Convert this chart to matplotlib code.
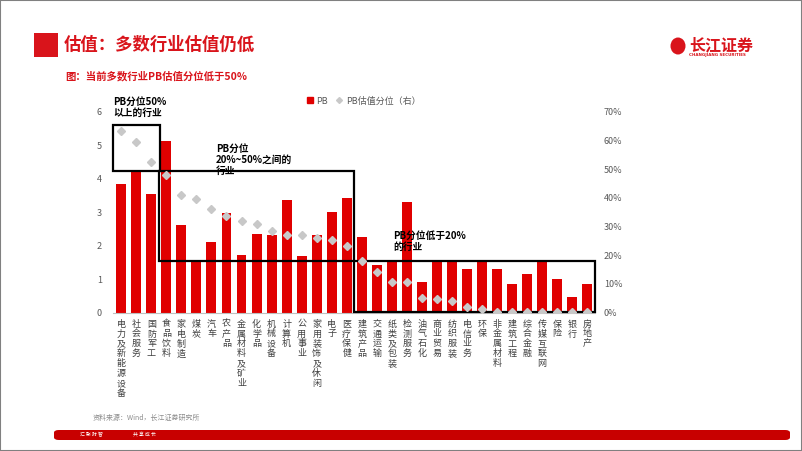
import numpy as np
import matplotlib.pyplot as plt
from matplotlib.patches import Rectangle, FancyBboxPatch, Ellipse
from matplotlib.lines import Line2D

plt.rcParams['font.family'] = ['Noto Sans CJK SC', 'DejaVu Sans']

# Data
industries = ['电力及新能源设备', '社会服务', '国防军工', '食品饮料', '家电制造', '煤炭', '汽车',
              '农产品', '金属材料及矿业', '化学品', '机械设备', '计算机', '公用事业', '家用装饰及休闲',
              '电子', '医疗保健', '建筑产品', '交通运输', '纸类及包装', '检测服务', '油气石化',
              '商业贸易', '纺织服装', '电信业务', '环保', '非金属材料', '建筑工程', '综合金融',
              '传媒互联网', '保险', '银行', '房地产']
pb = [3.84, 4.20, 3.55, 5.13, 2.61, 1.50, 2.12, 2.97, 1.73, 2.34, 2.32, 3.35, 1.70, 2.31,
      3.00, 3.41, 2.25, 1.42, 1.55, 3.31, 0.92, 1.53, 1.58, 1.30, 1.52, 1.31, 0.85, 1.15,
      1.55, 1.02, 0.47, 0.86]
pb_pct = [63.4, 59.6, 52.6, 47.8, 41.1, 39.5, 36.0, 33.7, 32.0, 31.0, 28.3, 26.9, 26.9, 26.0,
          25.4, 23.3, 18.1, 14.3, 10.8, 10.6, 5.1, 4.6, 4.1, 2.1, 1.2, 0.4, 0.3, 0.2,
          0.3, 0.2, 0.2, 0.2]
left_ticks = [0, 1, 2, 3, 4, 5, 6]
right_ticks = [0, 10, 20, 30, 40, 50, 60, 70]

W, H = 802, 451
RED = '#E00000'
fig = plt.figure(figsize=(W / 100, H / 100), dpi=100)

def fx(px):
    return px / W

def fy(py):
    return 1 - py / H

# page frame
fig.add_artist(Rectangle((0, 0), 1, 1, transform=fig.transFigure, fill=False,
                         edgecolor='#808080', lw=1.5))

# header
fig.add_artist(Rectangle((fx(34), fy(57)), fx(24), 24 / H, transform=fig.transFigure,
                         facecolor='#D9141B', edgecolor='none'))
fig.text(fx(64), fy(45), '估值：多数行业估值仍低', color='#D9141B', fontsize=12.5,
         fontweight='bold', va='center', ha='left')
fig.text(fx(65), fy(76), '图：当前多数行业PB估值分位低于50%', color='#D9141B', fontsize=7.5,
         fontweight='bold', va='center', ha='left')

# logo
fig.add_artist(Ellipse((fx(678), fy(46)), 15 / W, 17 / H, transform=fig.transFigure,
                       facecolor='#D9141B', edgecolor='none'))
fig.text(fx(689), fy(45), '长江证券', color='#D9141B', fontsize=11.5, fontweight='bold',
         va='center', ha='left')
fig.text(fx(689), fy(55), 'CHANGJIANG SECURITIES', color='#D9141B', fontsize=2.9,
         fontweight='bold', va='center', ha='left', family='DejaVu Sans')

# footer
fig.text(fx(93), fy(418), '资料来源：Wind，长江证券研究所', color='#8C8C8C', fontsize=5,
         va='center', ha='left')
fig.add_artist(FancyBboxPatch((fx(54), fy(440)), fx(790 - 54), 10 / H,
                              boxstyle='round,pad=0,rounding_size=0.006',
                              transform=fig.transFigure, facecolor='#C80000',
                              edgecolor='none'))
fig.text(fx(80), fy(435), '汇 聚 财 智', color='white', fontsize=3.5, va='center', ha='left')
fig.text(fx(133), fy(435), '共 享 成 长', color='white', fontsize=3.5, va='center', ha='left')

# chart
ax = fig.add_axes([fx(113), fy(312.7), fx(595.5 - 113), (312.7 - 111.7) / H])
x = np.arange(len(industries))
ax.bar(x, pb, width=0.66, color=RED, zorder=2)
ax.set_xlim(-0.55, 31.55)
ax.set_ylim(0, 6)
ax.set_yticks(left_ticks)
ax.tick_params(axis='y', length=0, labelsize=6.5, labelcolor='#595959', pad=8)
ax.set_xticks(x)
ax.set_xticklabels(['\n'.join(n) for n in industries], fontsize=6.5, color='#404040',
                   linespacing=1.12, va='top')
ax.tick_params(axis='x', length=0, pad=5)
for s in ['top', 'right', 'left']:
    ax.spines[s].set_visible(False)
ax.spines['bottom'].set_color('#BFBFBF')

ax2 = ax.twinx()
ax2.plot(x, np.array(pb_pct) / 100, linestyle='none', marker='D', markersize=3.8,
         color='#C8C8C8', zorder=3)
ax2.set_ylim(0, 0.7)
ax2.set_yticks(np.array(right_ticks) / 100)
ax2.set_yticklabels([f'{t}%' for t in right_ticks])
ax2.tick_params(axis='y', length=0, labelsize=6.5, labelcolor='#595959', pad=6)
for s in ['top', 'right', 'left', 'bottom']:
    ax2.spines[s].set_visible(False)

# group boxes
boxes = [(-0.55, 4.24, 2.55 + 0.55, 5.6 - 4.24),
         (2.5, 1.55, 15.5 - 2.5, 4.24 - 1.55),
         (15.5, 0.02, 31.5 - 15.5, 1.55 - 0.02)]
for bx, by, bw, bh in boxes:
    ax.add_patch(Rectangle((bx, by), bw, bh, fill=False, edgecolor='black', lw=1.6,
                           zorder=5, clip_on=False))
fig.text(fx(113), fy(107), 'PB分位50%\n以上的行业', fontsize=7, fontweight='bold',
         va='center', ha='left', linespacing=1.1)
fig.text(fx(216), fy(160), 'PB分位\n20%~50%之间的\n行业', fontsize=7, fontweight='bold',
         va='center', ha='left', linespacing=1.1)
fig.text(fx(393), fy(241), 'PB分位低于20%\n的行业', fontsize=7, fontweight='bold',
         va='center', ha='left', linespacing=1.1)

# legend
handles = [Line2D([], [], linestyle='none', marker='s', markersize=4, color=RED),
           Line2D([], [], linestyle='none', marker='D', markersize=3, color='#C8C8C8')]
fig.legend(handles, ['PB', 'PB估值分位（右）'], loc='center left',
           bbox_to_anchor=(fx(297), fy(101)), ncol=2, frameon=False, fontsize=6.5,
           handletextpad=0.2, columnspacing=0.8, handlelength=1, labelcolor='#595959')

fig.savefig('out.png', dpi=100)
